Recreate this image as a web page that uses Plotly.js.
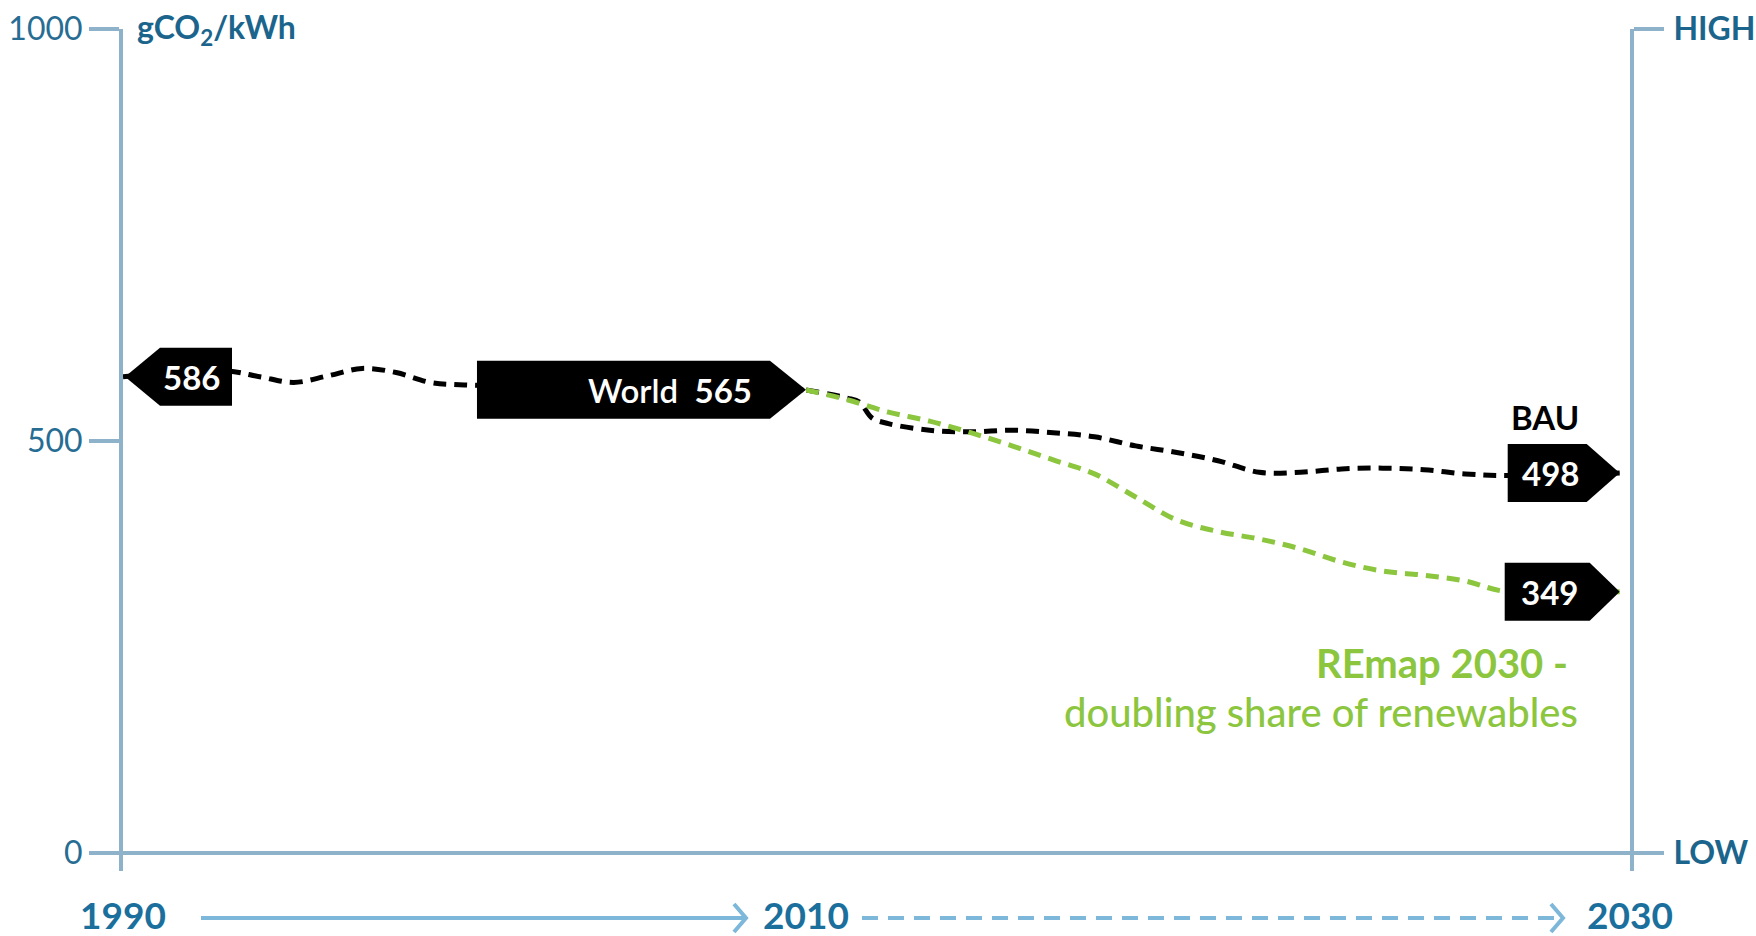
<!DOCTYPE html>
<html>
<head>
<meta charset="utf-8">
<script src="https://cdn.plot.ly/plotly-3.0.1.min.js"></script>
<style>
  html, body { margin: 0; padding: 0; background: #ffffff; }
  #chart { width: 1756px; height: 936px; }
</style>
</head>
<body>
<div id="chart"></div>
<script>
// ---------- data ----------
const histYears   = [1990, 1993, 1994, 1995, 1996, 1997, 1998, 1999, 2000, 2010];
const histValues  = [578, 585, 578, 571, 579, 588, 583, 571, 568, 562];

const bauYears    = [2010, 2011, 2011.3, 2011.6, 2012, 2013, 2014, 2015, 2016, 2017, 2018, 2019, 2020, 2021, 2022, 2023, 2024, 2025, 2026, 2027, 2029.75];
const bauValues   = [562, 552, 547, 528, 521, 513, 511, 513, 510, 505, 494, 486, 476, 462, 462, 466, 467, 465, 460, 458, 461];

const remapYears  = [2010, 2011, 2012, 2013, 2014, 2015, 2016, 2017, 2018, 2019, 2020, 2021, 2022, 2023, 2024, 2025, 2026, 2027, 2029.75];
const remapValues = [562, 550, 535, 524, 510, 494, 477, 460, 432, 404, 390, 381, 369, 353, 342, 337, 330, 317, 317];

const startLabel  = '586';
const worldLabel  = 'World&nbsp;&nbsp;<b>565</b>';
const bauLabel    = '498';
const remapLabel  = '349';
const bauName     = 'BAU';
const remapName1  = 'REmap 2030 -';
const remapName2  = 'doubling share of renewables';
const unitTitle   = 'gCO<sub>2</sub>/kWh';

const yTickVals   = [0, 500, 1000];
const yTickText   = ['0', '500', '1000'];
const rTickVals   = [0, 1000];
const rTickText   = ['LOW', 'HIGH'];
const histTicks   = [1990, 2010];
const histTickTxt = ['1990', '2010'];
const projTicks   = [2030];
const projTickTxt = ['2030'];

// ---------- styles ----------
const AXIS = '#8fb2cb';
const TEAL = '#1b658d';
const NUM  = '#276d93';
const YEAR = '#1a6f9c';
const ARROW = '#7db7da';
const GREEN = '#8cc63f';
const FONT = 'Lato, "Open Sans", sans-serif';

const last = a => a[a.length - 1];

const traces = [
  { x: histYears, y: histValues, xaxis: 'x', yaxis: 'y', mode: 'lines',
    line: { color: '#000', width: 5, dash: '13px,8px', shape: 'spline', smoothing: 1 }, hoverinfo: 'skip' },
  { x: bauYears, y: bauValues, xaxis: 'x2', yaxis: 'y2', mode: 'lines',
    line: { color: '#000', width: 5, dash: '13px,8px', shape: 'spline', smoothing: 1 }, hoverinfo: 'skip' },
  { x: remapYears, y: remapValues, xaxis: 'x2', yaxis: 'y2', mode: 'lines',
    line: { color: GREEN, width: 5, dash: '13px,8px', shape: 'spline', smoothing: 1 }, hoverinfo: 'skip' }
];

const split = 0.4532;
const yRange = [-22, 1000];

function labelShape(xref, yref, ax, ay, path) {
  return { type: 'path', xref: xref, yref: yref, xsizemode: 'pixel', ysizemode: 'pixel',
           xanchor: ax, yanchor: ay, path: path, fillcolor: '#000', line: { width: 0 }, layer: 'above' };
}
function txt(xref, yref, x, y, text, dx, dy, opts) {
  return Object.assign({ xref: xref, yref: yref, x: x, y: y, text: text, showarrow: false,
    xshift: dx, yshift: dy, xanchor: 'center', yanchor: 'middle',
    font: { family: FONT, size: 33, color: '#fff', weight: 'bold' } }, opts || {});
}

const shapes = [
  labelShape('x', 'y', histYears[0], histValues[0], 'M2,0 L37,29 L109,29 L109,-29 L37,-29 Z'),
  labelShape('x', 'y', last(histYears), last(histValues), 'M0,0 L-36,29 L-329,29 L-329,-29 L-36,-29 Z'),
  labelShape('x2', 'y2', last(bauYears), last(bauValues), 'M0,0 L-33,29 L-112,29 L-112,-29 L-33,-29 Z'),
  labelShape('x2', 'y2', last(remapYears), last(remapValues), 'M0,0 L-30,29 L-115,29 L-115,-29 L-30,-29 Z'),
  // time arrows under the axis
  { type: 'path', xref: 'x', yref: 'paper', xsizemode: 'pixel', ysizemode: 'pixel',
    xanchor: histTicks[0], yanchor: 0,
    path: 'M78,-47 L623,-47 M611,-33 L623,-47 L611,-61', line: { color: ARROW, width: 4 } },
  { type: 'path', xref: 'x2', yref: 'paper', xsizemode: 'pixel', ysizemode: 'pixel',
    xanchor: histTicks[1], yanchor: 0,
    path: 'M56,-47 L752,-47', line: { color: ARROW, width: 4, dash: '16px,10px' } },
  { type: 'path', xref: 'x2', yref: 'paper', xsizemode: 'pixel', ysizemode: 'pixel',
    xanchor: histTicks[1], yanchor: 0,
    path: 'M745,-33 L757,-47 L745,-61', line: { color: ARROW, width: 4 } }
];

const annotations = [
  txt('x', 'y', histYears[0], histValues[0], startLabel, 68, 0),
  txt('x', 'y', last(histYears), last(histValues), worldLabel, -136, 0, {
    font: { family: FONT, size: 33, color: '#fff', weight: 600 } }),
  txt('x2', 'y2', last(bauYears), last(bauValues), bauLabel, -69, 0),
  txt('x2', 'y2', last(remapYears), last(remapValues), remapLabel, -70, 0),
  txt('x2', 'y2', last(bauYears), last(bauValues), bauName, -75, 56, {
    font: { family: FONT, size: 33, color: '#000', weight: 'bold' } }),
  txt('x2', 'y2', last(remapYears), last(remapValues), remapName1, -50, -71, {
    xanchor: 'right', font: { family: FONT, size: 40, color: GREEN, weight: 'bold' } }),
  txt('x2', 'y2', last(remapYears), last(remapValues), remapName2, -40, -120, {
    xanchor: 'right', font: { family: FONT, size: 40, color: GREEN, weight: 500 } }),
  { xref: 'paper', yref: 'y', x: 0, y: 1000, text: unitTitle, showarrow: false,
    xanchor: 'left', yanchor: 'middle', xshift: 12,
    font: { family: FONT, size: 32, color: TEAL, weight: 'bold' } }
];

const axisCommon = {
  showgrid: false, showline: true, linecolor: AXIS, linewidth: 4,
  ticks: 'outside', tickcolor: AXIS, tickwidth: 4, ticklen: 30,
  fixedrange: true
};

const layout = {
  width: 1756, height: 936,
  margin: { l: 123, r: 126, t: 29, b: 65, pad: 0 },
  paper_bgcolor: '#fff', plot_bgcolor: '#fff',
  showlegend: false,
  xaxis: { domain: [0, split], range: [1990, 2010], anchor: 'y',
           tickmode: 'array', tickvals: histTicks, ticktext: histTickTxt,
           ticks: 'inside', ticklen: 18, tickwidth: 4, tickcolor: AXIS,
           showline: false, showgrid: false, zeroline: false, ticklabelstandoff: 20,
           tickfont: { family: FONT, size: 37, color: YEAR, weight: 'bold' }, fixedrange: true },
  xaxis2: { domain: [split, 1], range: [2010, 2030], anchor: 'y2',
           tickmode: 'array', tickvals: projTicks, ticktext: projTickTxt,
           ticks: 'inside', ticklen: 18, tickwidth: 4, tickcolor: AXIS,
           showline: false, showgrid: false, zeroline: false, ticklabelstandoff: 20,
           tickfont: { family: FONT, size: 37, color: YEAR, weight: 'bold' }, fixedrange: true },
  yaxis: Object.assign({}, axisCommon, {
           range: yRange, anchor: 'x', side: 'left',
           tickmode: 'array', tickvals: yTickVals, ticktext: yTickText,
           zeroline: true, zerolinecolor: AXIS, zerolinewidth: 4, ticklabelstandoff: 0,
           tickfont: { family: FONT, size: 32, color: NUM, weight: 400 } }),
  yaxis2: Object.assign({}, axisCommon, {
           range: yRange, anchor: 'x2', side: 'right',
           tickmode: 'array', tickvals: rTickVals, ticktext: rTickText,
           zeroline: true, zerolinecolor: AXIS, zerolinewidth: 4, ticklabelstandoff: 3,
           tickfont: { family: FONT, size: 32, color: TEAL, weight: 'bold' } }),
  shapes: shapes,
  annotations: annotations
};

Plotly.newPlot('chart', traces, layout, { displayModeBar: false, staticPlot: true });
</script>
</body>
</html>
